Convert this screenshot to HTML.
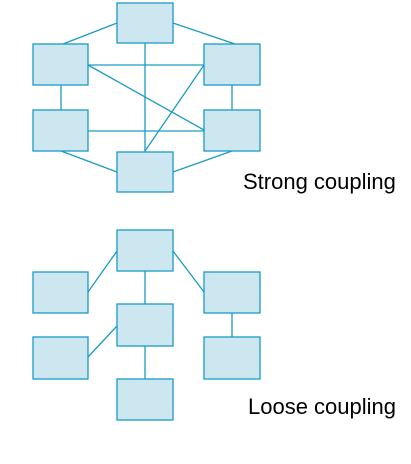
<!DOCTYPE html>
<html><head><meta charset="utf-8"><style>
html,body{margin:0;padding:0;background:#fff;width:411px;height:464px;overflow:hidden}
svg{display:block}
text{font-family:"Liberation Sans",sans-serif;font-size:22px;fill:#000}
</style></head><body>
<svg width="411" height="464" viewBox="0 0 411 464">
<g stroke="#1a9cc4" stroke-width="1.3" fill="none">
<line x1="117" y1="23" x2="63" y2="44"/>
<line x1="173" y1="23" x2="235" y2="44"/>
<line x1="145" y1="43" x2="145" y2="152"/>
<line x1="88" y1="65" x2="204" y2="65"/>
<line x1="88" y1="65" x2="204" y2="130"/>
<line x1="145" y1="151" x2="204" y2="65"/>
<line x1="61" y1="85" x2="61" y2="110"/>
<line x1="232" y1="85" x2="232" y2="110"/>
<line x1="88" y1="131" x2="204" y2="131"/>
<line x1="61" y1="151" x2="117" y2="172"/>
<line x1="173" y1="172" x2="232" y2="151"/>
<line x1="88" y1="292" x2="117" y2="251"/>
<line x1="173" y1="251" x2="204" y2="292"/>
<line x1="145" y1="271" x2="145" y2="304"/>
<line x1="88" y1="357" x2="117" y2="326"/>
<line x1="145" y1="346" x2="145" y2="379"/>
<line x1="232" y1="313" x2="232" y2="337"/>
</g>
<g fill="#cce7f0" stroke="#1a9cc4" stroke-width="1.3">
<rect x="117" y="3" width="56" height="40"/>
<rect x="33" y="44" width="55" height="41"/>
<rect x="204" y="44" width="56" height="41"/>
<rect x="33" y="110" width="55" height="41"/>
<rect x="204" y="110" width="56" height="41"/>
<rect x="117" y="152" width="56" height="40"/>
<rect x="117" y="230" width="56" height="41"/>
<rect x="33" y="272" width="55" height="41"/>
<rect x="204" y="272" width="56" height="41"/>
<rect x="117" y="304" width="56" height="42"/>
<rect x="33" y="337" width="55" height="42"/>
<rect x="204" y="337" width="56" height="42"/>
<rect x="117" y="379" width="56" height="41"/>
</g>
<text x="243" y="189">Strong coupling</text>
<text x="248" y="414">Loose coupling</text>
</svg>
</body></html>
